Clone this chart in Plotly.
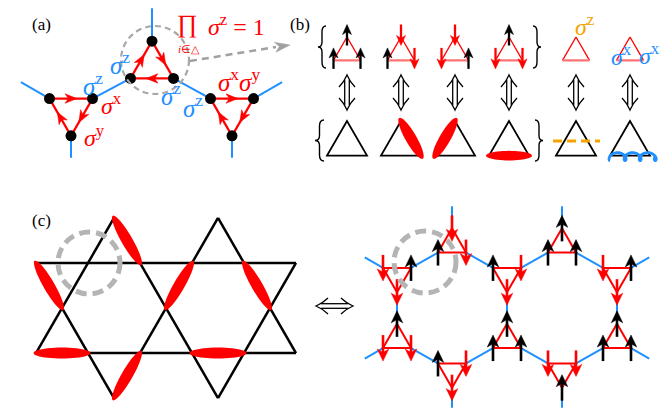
import math
import plotly.graph_objects as go

W, H = 672, 409
SERIF = "Liberation Serif"
RED = "#ff0000"
BLUE = "#1e90ff"
BLACK = "#000000"
GRAY = "#b4b4b4"
ORANGE = "#f5a300"

# ---------------- panel (a): three triangles of the star lattice ----------------
a_tri_cx = [144, 63, 224]
a_tri_cy = [58, 103, 103]
a_tri_orient = ["up", "down", "down"]
a_side = 43
a_links = [(0, 1, 1, 1), (0, 2, 2, 0)]              # (tri, vertex) -- (tri, vertex)
a_stubs = [(0, 0, 0.0, -1.0, 33), (1, 0, -0.866, -0.5, 33), (2, 1, 0.866, -0.5, 33),
           (1, 2, 0.0, 1.0, 22), (2, 2, 0.0, 1.0, 22)]
a_labels = [
    ("(a)", 33, 16, BLACK, 17),
    ("<i>σ</i><sup>z</sup>", 85, 76, BLUE, 25),
    ("<i>σ</i><sup>z</sup>", 112, 55, BLUE, 25),
    ("<i>σ</i><sup>z</sup>", 163, 86, BLUE, 25),
    ("<i>σ</i><sup>z</sup>", 185, 98, BLUE, 25),
    ("<i>σ</i><sup>x</sup>", 103, 96, RED, 24),
    ("<i>σ</i><sup>y</sup>", 86, 128, RED, 24),
    ("<i>σ</i><sup>x</sup><i>σ</i><sup>y</sup>", 231, 72, RED, 25),
    ("∏", 179, 16, RED, 25),
    ("<i>σ</i><sup>z</sup> = 1", 228, 17, RED, 24),
    ("<i>i</i>∈△", 181, 41, RED, 11),
]

# ---------------- panel (b): triangle states ----------------
b_cols_x = [339, 393, 447, 501, 568, 622]
b_spins = [["u", "u", "u"], ["d", "u", "d"], ["d", "d", "u"], ["u", "d", "d"]]
b_top_side, b_top_apex = 27, 29
b_bot_side, b_bot_apex = 40, 113
b_dimers = ["none", "right", "left", "base"]
b_labels = [
    ("(b)", 292, 16, BLACK, 17),
    ("<i>σ</i><sup>z</sup>", 576, 17, ORANGE, 24),
    ("<i>σ</i><sup>x</sup>", 613, 47, BLUE, 24),
    ("<i>σ</i><sup>x</sup>", 641, 46, BLUE, 24),
]

# ---------------- panel (c) left: kagome dimer covering ----------------
kag_x0, kag_y0, kag_b = 28, 300, 52
kag_lines = [((0, -1), (5, -1)), ((0, 1), (5, 1)),
             ((0, 1), (1.5, -2)), ((1.5, 2), (3.5, -2)), ((3.5, 2), (5, -1)),
             ((0, -1), (1.5, 2)), ((1.5, -2), (3.5, 2)), ((3.5, -2), (5, 1))]
kag_dimers = [((1.5, -2), (2, -1)), ((0, -1), (0.5, 0)), ((2.5, 0), (3, -1)),
              ((4, -1), (4.5, 0)), ((0, 1), (1, 1)), ((2, 1), (1.5, 2)), ((3, 1), (4, 1))]
kag_circle_site = (1, -1)

# ---------------- panel (c) right: star lattice spins ----------------
st_cx = [444, 554, 389, 499, 609, 389, 499, 609, 444, 554]
st_cy = [236.5, 236.5, 268, 268, 268, 332, 332, 332, 363.5, 363.5]
st_orient = ["up", "up", "down", "down", "down", "up", "up", "up", "down", "down"]
st_spins = [["d", "u", "d"], ["u", "u", "u"], ["d", "u", "d"], ["u", "d", "d"], ["d", "u", "d"],
            ["u", "d", "d"], ["u", "u", "u"], ["u", "u", "u"], ["u", "d", "d"], ["d", "d", "u"]]
st_side = 28
st_links = [(0, 1, 2, 1), (0, 2, 3, 0), (1, 1, 3, 1), (1, 2, 4, 0), (2, 2, 5, 0), (3, 2, 6, 0),
            (4, 2, 7, 0), (5, 2, 8, 0), (8, 1, 6, 1), (6, 2, 9, 0), (9, 1, 7, 1)]
st_stubs = [(0, 0, 0.0, -1.0, 22), (1, 0, 0.0, -1.0, 22), (8, 2, 0.0, 1.0, 20), (9, 2, 0.0, 1.0, 20),
            (2, 0, -0.866, -0.5, 21), (4, 1, 0.866, -0.5, 21), (5, 1, -0.866, 0.5, 21), (7, 2, 0.866, 0.5, 21)]

# =====================================================================
shapes = []
annotations = []


def line(x0, y0, x1, y1, color, width, dash=None):
    ln = dict(color=color, width=width)
    if dash:
        ln["dash"] = dash
    shapes.append(dict(type="line", xref="x", yref="y", x0=x0, y0=y0, x1=x1, y1=y1, line=ln))


def path(d, color="rgba(0,0,0,0)", width=0, fill=None, dash=None):
    ln = dict(color=color, width=width)
    if dash:
        ln["dash"] = dash
    s = dict(type="path", xref="x", yref="y", path=d, line=ln)
    if fill:
        s["fillcolor"] = fill
    shapes.append(s)


def poly(pts):
    return "M " + " L ".join(f"{x:.2f},{y:.2f}" for x, y in pts) + " Z"


def circle(cx, cy, r, color, width=0, fill=None, dash=None):
    ln = dict(color=color, width=width)
    if dash:
        ln["dash"] = dash
    s = dict(type="circle", xref="x", yref="y", x0=cx - r, x1=cx + r, y0=cy - r, y1=cy + r, line=ln)
    if fill:
        s["fillcolor"] = fill
    shapes.append(s)


def text(s, x, y, color, size):
    annotations.append(dict(x=x, y=y, xref="x", yref="y", text=s, showarrow=False,
                            font=dict(family=SERIF, size=size, color=color)))


def tri_vertices(cx, cy, side, orient):
    r = side / math.sqrt(3)
    if orient == "up":
        return [(cx, cy - r), (cx - side / 2, cy + r / 2), (cx + side / 2, cy + r / 2)]
    return [(cx - side / 2, cy - r / 2), (cx + side / 2, cy - r / 2), (cx, cy + r)]


def head(tx, ty, dx, dy, L, Wd, color):
    n = math.hypot(dx, dy)
    ux, uy = dx / n, dy / n
    px, py = -uy, ux
    bx, by = tx - ux * L, ty - uy * L
    nx, ny = tx - ux * L * 0.72, ty - uy * L * 0.72
    pts = [(tx, ty), (bx + px * Wd / 2, by + py * Wd / 2), (nx, ny), (bx - px * Wd / 2, by - py * Wd / 2)]
    path(poly(pts), color=color, width=0.5, fill=color)


def spin(x, yc, s, L, hl, hw, width):
    if s == "u":
        tail, tip, col, d = yc + L / 2, yc - L / 2, BLACK, -1
    else:
        tail, tip, col, d = yc - L / 2, yc + L / 2, RED, 1
    line(x, tail, x, tip - d * hl * 0.6, col, width)
    head(x, tip, 0, d, hl, hw, col)


def ellipse(cx, cy, a, b, ang, color):
    pts = []
    ca, sa = math.cos(ang), math.sin(ang)
    for k in range(48):
        t = 2 * math.pi * k / 48
        ex, ey = a * math.cos(t), b * math.sin(t)
        pts.append((cx + ex * ca - ey * sa, cy + ex * sa + ey * ca))
    path(poly(pts), color=color, width=0, fill=color)


def bond_ellipse(p, q, extra, b, color):
    (x0, y0), (x1, y1) = p, q
    L = math.hypot(x1 - x0, y1 - y0)
    ellipse((x0 + x1) / 2, (y0 + y1) / 2, L / 2 + extra, b, math.atan2(y1 - y0, x1 - x0), color)


def vdouble(x, y1, y2, w=1.3):
    line(x - 2.3, y1 + 5, x - 2.3, y2 - 5, BLACK, w)
    line(x + 2.3, y1 + 5, x + 2.3, y2 - 5, BLACK, w)
    path(f"M {x-8},{y1+12} Q {x-3},{y1+7} {x},{y1} Q {x+3},{y1+7} {x+8},{y1+12}", BLACK, w)
    path(f"M {x-8},{y2-12} Q {x-3},{y2-7} {x},{y2} Q {x+3},{y2-7} {x+8},{y2-12}", BLACK, w)


def hdouble(y, x1, x2, w=1.3):
    line(x1 + 5, y - 2.3, x2 - 5, y - 2.3, BLACK, w)
    line(x1 + 5, y + 2.3, x2 - 5, y + 2.3, BLACK, w)
    path(f"M {x1+12},{y-8} Q {x1+7},{y-3} {x1},{y} Q {x1+7},{y+3} {x1+12},{y+8}", BLACK, w)
    path(f"M {x2-12},{y-8} Q {x2-7},{y-3} {x2},{y} Q {x2-7},{y+3} {x2-12},{y+8}", BLACK, w)


def brace(xl, xr, y1, y2, left=True, w=1.4):
    ym = (y1 + y2) / 2
    if left:
        tip, outer = xl, xr
    else:
        tip, outer = xr, xl
    xm = (xl + xr) / 2
    d = (f"M {outer},{y1} Q {xm},{y1} {xm},{y1+6} L {xm},{ym-5} Q {xm},{ym} {tip},{ym} "
         f"Q {xm},{ym} {xm},{ym+5} L {xm},{y2-6} Q {xm},{y2} {outer},{y2}")
    path(d, BLACK, w)


# ---------------- draw panel (a) ----------------
a_verts = [tri_vertices(a_tri_cx[i], a_tri_cy[i], a_side, a_tri_orient[i]) for i in range(3)]
for t1, v1, t2, v2 in a_links:
    (x0, y0), (x1, y1) = a_verts[t1][v1], a_verts[t2][v2]
    line(x0, y0, x1, y1, BLUE, 2)
for t, v, dx, dy, L in a_stubs:
    x0, y0 = a_verts[t][v]
    line(x0, y0, x0 + dx * L, y0 + dy * L, BLUE, 2)
for i in range(3):
    vs = a_verts[i]
    cyc = [(1, 0), (0, 2), (2, 1)] if a_tri_orient[i] == "up" else [(0, 1), (1, 2), (2, 0)]
    for p, q in cyc:
        (x0, y0), (x1, y1) = vs[p], vs[q]
        line(x0, y0, x1, y1, RED, 2.2)
        tx, ty = x0 + 0.64 * (x1 - x0), y0 + 0.64 * (y1 - y0)
        head(tx, ty, x1 - x0, y1 - y0, 12, 9.5, RED)
for i in range(3):
    for (x, y) in a_verts[i]:
        circle(x, y, 5.5, BLACK, 0, BLACK)
circle(147, 52, 34, "#a8a8a8", 2.2, None, "6px,4px")
line(182, 53, 268, 39, "#a0a0a0", 2.5, "7px,5px")
head(282, 37, 100, -15, 15, 10, "#a0a0a0")
for s, x, y, c, fs in a_labels:
    text(s, x, y, c, fs)

# ---------------- draw panel (b) ----------------
for j, cx in enumerate(b_cols_x):
    r = b_top_side / math.sqrt(3)
    vs = tri_vertices(cx, b_top_apex + r, b_top_side, "up")
    line(vs[0][0], vs[0][1], vs[1][0], vs[1][1], RED, 1.3)
    line(vs[0][0], vs[0][1], vs[2][0], vs[2][1], RED, 1.3)
    line(vs[1][0], vs[1][1], vs[2][0], vs[2][1], "#ff7070", 2.2)
    if j < len(b_spins):
        for (x, y), s in zip(vs, b_spins[j]):
            spin(x, y - 2, s, 21, 10, 9, 2.3)
    vdouble(cx, 67, 102)
    rb = b_bot_side / math.sqrt(3)
    vb = tri_vertices(cx, b_bot_apex + rb, b_bot_side, "up")
    path(poly(vb), BLACK, 1.8)
    if j < len(b_dimers):
        kind = b_dimers[j]
        if kind == "right":
            bond_ellipse(vb[0], vb[2], 3.5, 5.5, RED)
        elif kind == "left":
            bond_ellipse(vb[0], vb[1], 3.5, 5.5, RED)
        elif kind == "base":
            bond_ellipse(vb[1], vb[2], 3, 4.8, RED)
    if j == 4:
        line(cx - 23, vb[0][1] + 20, cx + 24, vb[0][1] + 20, ORANGE, 3, "9px,5px")
    if j == 5:
        pts = []
        n = 160
        tmax = 3.3 * 2 * math.pi
        rr, dd = 2.4, 4.0
        for k in range(n + 1):
            t = tmax * k / n
            pts.append((cx - 20 + rr * t - dd * math.sin(t), vb[1][1] + 1 + dd * math.cos(t)))
        path("M " + " L ".join(f"{x:.2f},{y:.2f}" for x, y in pts), BLUE, 2.8)
brace(310, 318, 18, 60, True)
brace(525, 533, 18, 60, False)
brace(307, 316, 112, 153, True)
brace(527, 535, 112, 153, False)
for s, x, y, c, fs in b_labels:
    text(s, x, y, c, fs)

# ---------------- draw panel (c) left ----------------
kh = kag_b * math.sqrt(3) / 2


def kxy(p):
    return kag_x0 + p[0] * kag_b, kag_y0 + p[1] * kh


for p, q in kag_lines:
    (x0, y0), (x1, y1) = kxy(p), kxy(q)
    line(x0, y0, x1, y1, BLACK, 2.5)
for p, q in kag_dimers:
    bond_ellipse(kxy(p), kxy(q), 2.5, 5.5, RED)
cxs, cys = kxy(kag_circle_site)
circle(cxs + 1, cys, 31, GRAY, 5, None, "11px,6px")
text("(c)", 33, 212, BLACK, 17)
hdouble(298, 308, 345)

# ---------------- draw panel (c) right ----------------
st_verts = [tri_vertices(st_cx[i], st_cy[i], st_side, st_orient[i]) for i in range(len(st_cx))]
for t1, v1, t2, v2 in st_links:
    (x0, y0), (x1, y1) = st_verts[t1][v1], st_verts[t2][v2]
    line(x0, y0, x1, y1, BLUE, 2)
for t, v, dx, dy, L in st_stubs:
    x0, y0 = st_verts[t][v]
    line(x0, y0, x0 + dx * L, y0 + dy * L, BLUE, 2)
for i, vs in enumerate(st_verts):
    path(poly(vs), RED, 2)
for i, vs in enumerate(st_verts):
    for (x, y), s in zip(vs, st_spins[i]):
        spin(x, y, s, 26, 12, 11.5, 2.6)
circle(417, 254, 31, GRAY, 5, None, "11px,6px")

fig = go.Figure()
fig.add_trace(go.Scatter(x=[0, W], y=[0, H], mode="markers", marker=dict(opacity=0),
                         hoverinfo="skip", showlegend=False))
fig.update_layout(
    width=W, height=H, margin=dict(l=0, r=0, t=0, b=0),
    paper_bgcolor="white", plot_bgcolor="white",
    xaxis=dict(range=[0, W], visible=False, fixedrange=True),
    yaxis=dict(range=[H, 0], visible=False, fixedrange=True),
    shapes=shapes, annotations=annotations, showlegend=False,
)
fig.write_html("out.html")
